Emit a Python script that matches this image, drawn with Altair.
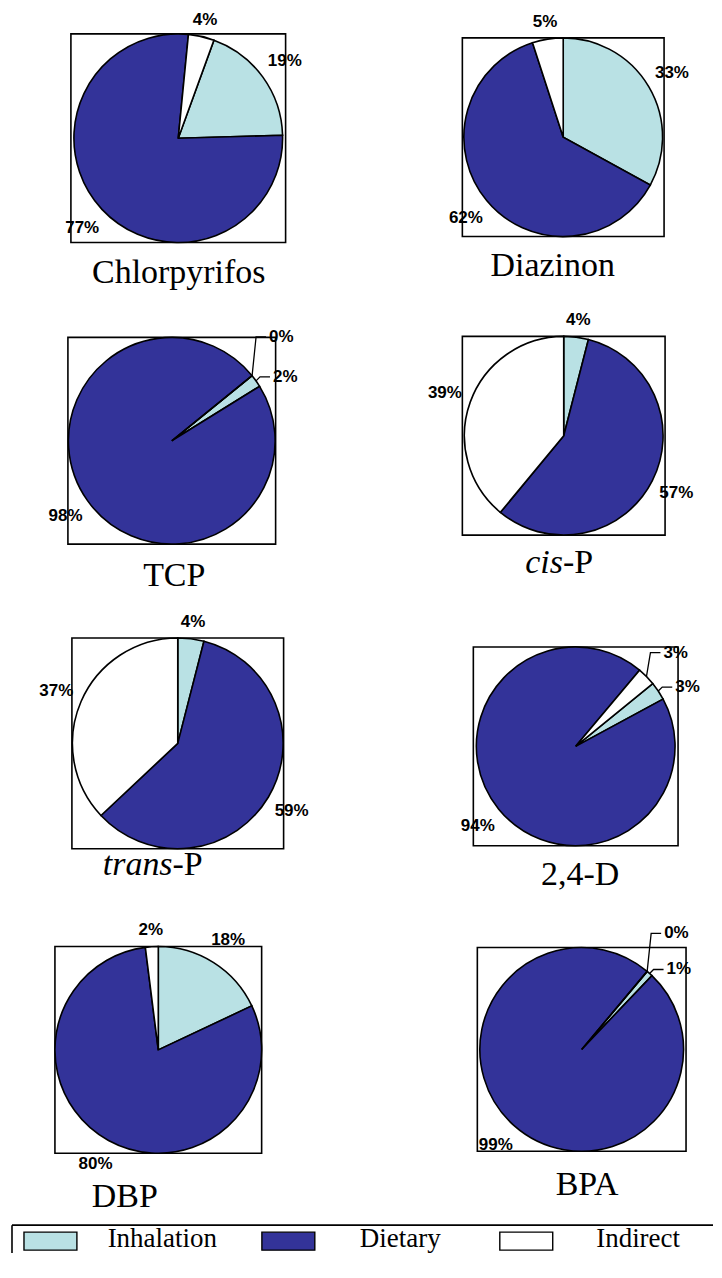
import math
import altair as alt
import pandas as pd

# ---------------- data ----------------
sources = ["Inhalation", "Dietary", "Indirect"]
colors = ["#B9E1E4", "#333399", "#FFFFFF"]
compounds = ["Chlorpyrifos", "Diazinon", "TCP", "cis-P", "trans-P", "2,4-D", "DBP", "BPA"]
italic_prefix = ["", "", "", "cis", "trans", "", "", ""]
inhalation = [19, 33, 2, 4, 4, 3, 18, 1]
dietary = [77, 62, 98, 57, 59, 94, 80, 99]
indirect = [4, 5, 0, 39, 37, 3, 2, 0]

# ---------------- layout / style (page pixels, page margin 8) ----------------
# box left x, top y, width, height, first-slice angle (deg), title dx from box centre,
# title baseline gap below box, dy of leader label for the indirect slice (None = no leaders)
layout = [
    dict(x=71, y=33, w=215, h=209, start=20, tdx=0.5, tgap=41, leader=None),
    dict(x=463, y=37, w=202, h=199, start=0, tdx=-10.5, tgap=39, leader=None),
    dict(x=68, y=337, w=208, h=207, start=51, tdx=2.5, tgap=42, leader=-39),
    dict(x=463, y=336, w=203, h=199, start=0, tdx=-0.8, tgap=38, leader=None),
    dict(x=72, y=638, w=212, h=211, start=0, tdx=-5.2, tgap=26, leader=None),
    dict(x=474, y=647, w=205, h=199, start=50.8, tdx=4.5, tgap=39, leader=-24),
    dict(x=55, y=947, w=207, h=207, start=0, tdx=-33.5, tgap=54, leader=None),
    dict(x=478, y=948, w=209, h=204, start=40, tdx=5.5, tgap=44, leader=-38),
]
PAGE0 = 8
W, H = 706, 1246
LEG = dict(x=12, y=1226, sw_top=1233, sw_h=18, sw_w=53,
           sw_x0=50.5, sw_x1=527, text_dx=112, text_base=1248, font=27)
SERIF = "Liberation Serif"
SANS = "Liberation Sans"
TITLE_SIZE = 34
LABEL_SIZE = 17
INH_DY = -4
STROKE = 1.6

fill_scale = alt.Scale(domain=sources, range=colors)
dummy = pd.DataFrame({"a": [0]})


def pie(i):
    L = layout[i]
    w, h = L["w"], L["h"]
    bx, by = L["x"] - PAGE0, L["y"] - PAGE0
    cx, cy = bx + w / 2, by + h / 2
    r = min(w, h) / 2
    t0 = math.radians(L["start"])
    vals = [inhalation[i], dietary[i], indirect[i]]
    df = pd.DataFrame({
        "source": sources,
        "pct": vals,
        "k": [0, 1, 2],
        "label": [f"{v}%" for v in vals],
    })
    box = alt.Chart(dummy).mark_rect(
        fillOpacity=0, stroke="black", strokeWidth=STROKE
    ).encode(x=alt.value(bx), x2=alt.value(bx + w), y=alt.value(by), y2=alt.value(by + h))

    tscale = alt.Scale(domain=[0, 100], range=[t0, t0 + 2 * math.pi])
    stacked = alt.Chart(df).transform_stack(
        stack="pct", as_=["s0", "s1"], groupby=[],
        sort=[alt.SortField("k", order="ascending")],
    ).transform_calculate(mid="(datum.s0 + datum.s1) / 2")

    arcs = stacked.mark_arc(outerRadius=r, stroke="black", strokeWidth=STROKE).encode(
        theta=alt.Theta("s0:Q", scale=tscale, stack=None),
        theta2="s1:Q",
        x=alt.value(cx), y=alt.value(cy),
        fill=alt.Fill("source:N", scale=fill_scale, legend=None),
    )
    leader = L["leader"]
    normal = "true" if leader is None else "datum.source == 'Dietary'"
    txt = dict(font=SANS, fontSize=LABEL_SIZE, fontWeight="bold", color="black")
    tenc = dict(theta=alt.Theta("mid:Q", scale=tscale, stack=None),
                x=alt.value(cx), y=alt.value(cy), text="label:N")
    lab2 = stacked.transform_filter(f"({normal}) && datum.pct >= 10").mark_text(
        radius=r + 27, **txt).encode(**tenc)
    lab1 = stacked.transform_filter(f"({normal}) && datum.pct < 10").mark_text(
        radius=r + 17, **txt).encode(**tenc)
    layers = [box, arcs, lab2, lab1]
    if leader is not None:
        for src, dy in (("Indirect", leader), ("Inhalation", INH_DY)):
            layers.append(
                stacked.transform_filter(f"datum.source == '{src}'").mark_text(
                    radius=r, align="left", dx=17, dy=dy, **txt).encode(**tenc)
            )
        rows = []
        cum = 0
        for src, v in zip(sources, vals):
            mid = t0 + 2 * math.pi * (cum + v / 2) / 100
            cum += v
            if src == "Dietary":
                continue
            dy = leader if src == "Indirect" else INH_DY
            ex, ey = cx + r * math.sin(mid), cy - r * math.cos(mid)
            pts = [(ex, ey), (ex + 4, ey + dy), (ex + 14, ey + dy)]
            for s, (px, py) in enumerate(pts):
                rows.append(dict(source=src, step=s, px=px, py=py))
        ldf = pd.DataFrame(rows)
        layers.append(
            alt.Chart(ldf).mark_line(color="black", strokeWidth=1.3).encode(
                x=alt.X("px:Q", scale=alt.Scale(domain=[0, W], range=[0, W]), axis=None),
                y=alt.Y("py:Q", scale=alt.Scale(domain=[0, H], range=[0, H]), axis=None),
                detail="source:N",
                order="step:Q",
            )
        )
    # title below the box
    name = compounds[i]
    prefix = italic_prefix[i]
    tx = cx + L["tdx"]
    ty = by + h + L["tgap"]
    tstyle = dict(font=SERIF, fontSize=TITLE_SIZE, baseline="alphabetic", color="black")
    if prefix:
        rest = name[len(prefix):]
        layers.append(
            alt.Chart(pd.DataFrame({"t": [prefix]})).mark_text(
                align="right", fontStyle="italic", **tstyle
            ).encode(text="t:N", x=alt.value(tx), y=alt.value(ty))
        )
        layers.append(
            alt.Chart(pd.DataFrame({"t": [rest]})).mark_text(align="left", **tstyle).encode(
                text="t:N", x=alt.value(tx), y=alt.value(ty)
            )
        )
    else:
        layers.append(
            alt.Chart(pd.DataFrame({"t": [name]})).mark_text(align="center", **tstyle).encode(
                text="t:N", x=alt.value(tx), y=alt.value(ty)
            )
        )
    return alt.layer(*layers)


def legend():
    lx, ly = LEG["x"] - PAGE0, LEG["y"] - PAGE0
    top_edge = alt.Chart(dummy).mark_rule(color="black", strokeWidth=STROKE).encode(
        x=alt.value(lx), x2=alt.value(W), y=alt.value(ly))
    left_edge = alt.Chart(dummy).mark_rule(color="black", strokeWidth=STROKE).encode(
        x=alt.value(lx), y=alt.value(ly), y2=alt.value(H))
    leg_df = pd.DataFrame({"source": sources})
    xs = alt.X("source:N", sort=sources,
               scale=alt.Scale(type="point", domain=sources,
                               range=[LEG["sw_x0"] - PAGE0, LEG["sw_x1"] - PAGE0], padding=0),
               axis=None)
    half = LEG["sw_h"] / LEG["sw_w"]
    swatches = alt.Chart(leg_df).mark_point(
        shape=f"M-1,-{half:.3f}H1V{half:.3f}H-1Z", size=LEG["sw_w"] ** 2,
        filled=True, opacity=1, stroke="black", strokeWidth=1.4,
    ).encode(x=xs, y=alt.value(LEG["sw_top"] - PAGE0 + LEG["sw_h"] / 2),
             fill=alt.Fill("source:N", scale=fill_scale, legend=None))
    leg_text = alt.Chart(leg_df).mark_text(
        font=SERIF, fontSize=LEG["font"], dx=LEG["text_dx"], align="center",
        baseline="alphabetic", color="black", clip=True,
    ).encode(x=xs, y=alt.value(LEG["text_base"] - PAGE0), text="source:N")
    return alt.layer(top_edge, left_edge, swatches, leg_text)


chart = alt.layer(
    *[pie(i) for i in range(len(compounds))], legend()
).resolve_scale(
    theta="independent", x="independent", y="independent"
).properties(
    width=W, height=H, padding=0, background="white"
).configure_view(stroke=None)

chart.save("out.html", embed_options={"renderer": "svg", "actions": False})
